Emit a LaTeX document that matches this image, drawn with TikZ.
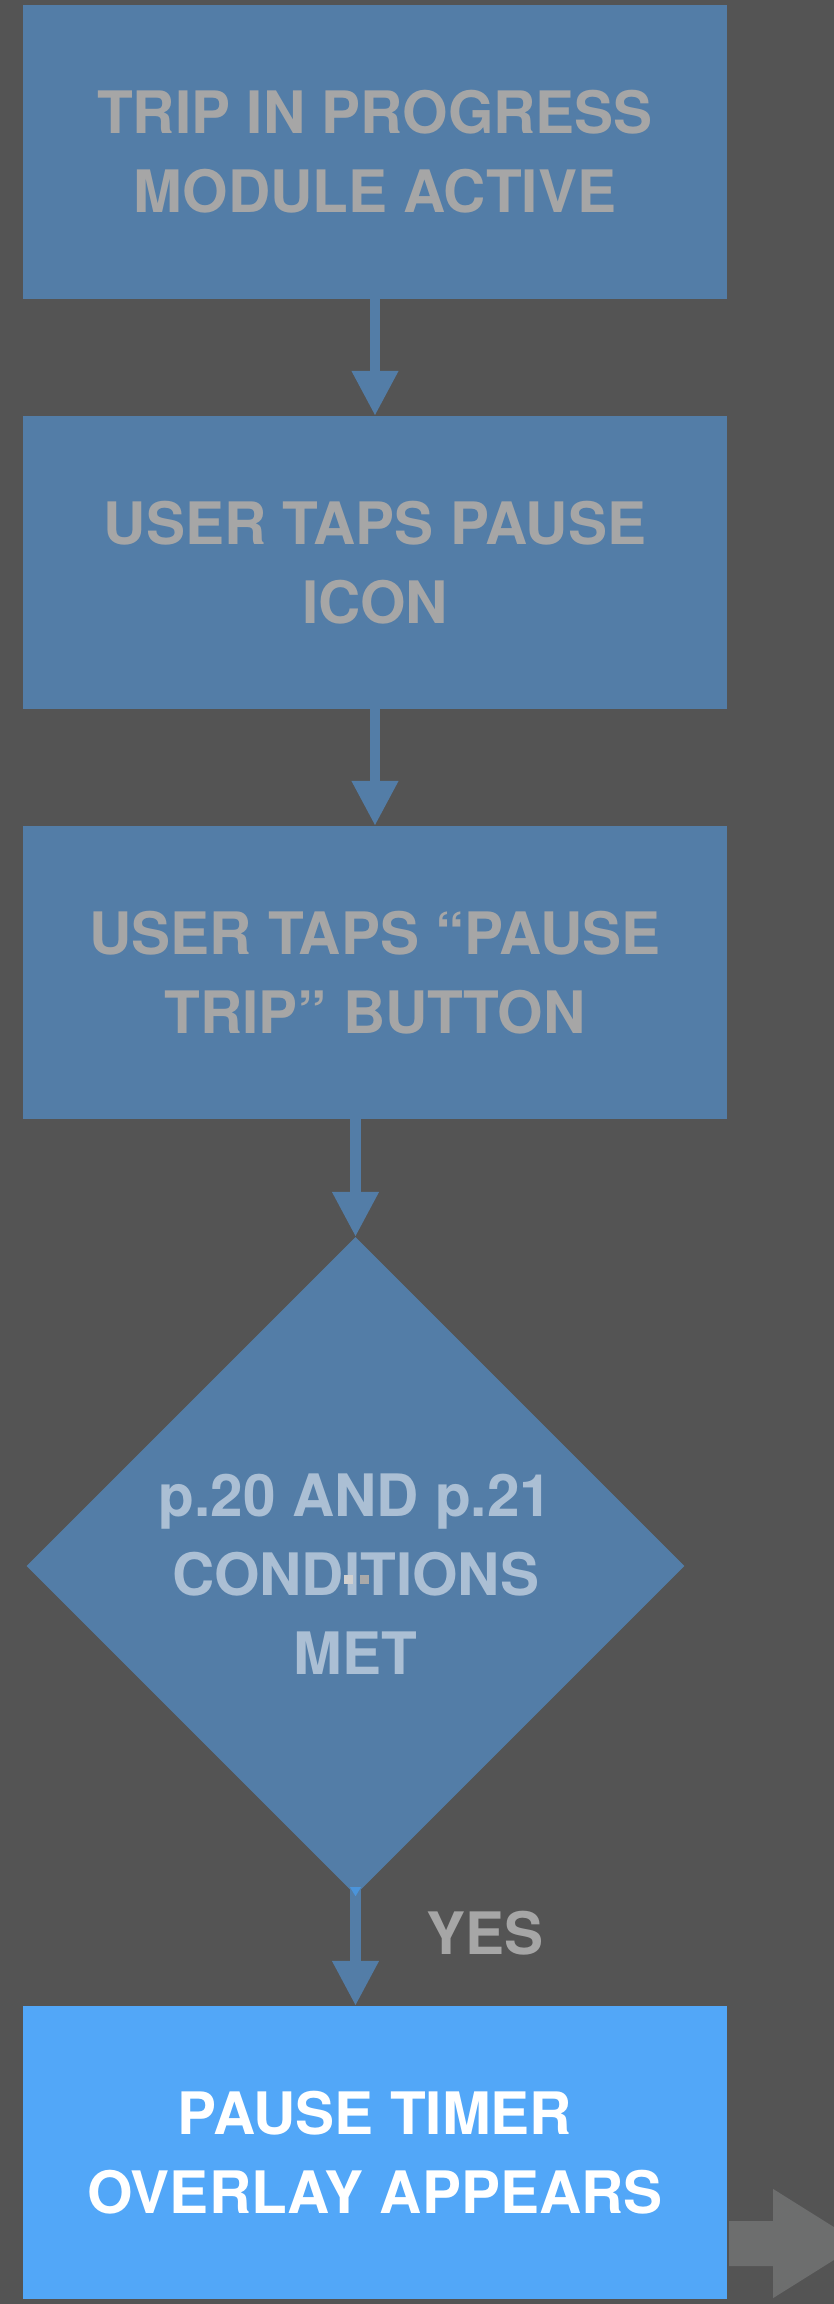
\documentclass[tikz,border=0pt]{standalone}
\usepackage{fontspec}
\setmainfont{TeX Gyre Heros}
\usetikzlibrary{arrows.meta,shapes.geometric,calc}

\definecolor{canvas}{HTML}{545454}
\definecolor{stepfill}{HTML}{537DA7}
\definecolor{steptext}{HTML}{A6A6A6}
\definecolor{decisiontext}{HTML}{ABBFD4}
\definecolor{activefill}{HTML}{52A7F8}
\definecolor{nextarrow}{HTML}{6D6E6E}
\definecolor{overlaptip}{HTML}{4B94DA}
\definecolor{markA}{HTML}{D0D0D0}
\definecolor{markB}{HTML}{A9A9A9}

\begin{document}
\begin{tikzpicture}[x=1pt,y=-1pt,
  labelfont/.style={font=\fontsize{58.5}{79}\selectfont\bfseries},
  stepbox/.style={rectangle, fill=stepfill, minimum width=704pt,
    minimum height=293pt, inner sep=0pt, align=center, text=steptext, labelfont},
  activebox/.style={stepbox, fill=activefill, text=white},
  decision/.style={diamond, fill=stepfill, minimum width=658pt,
    minimum height=658pt, inner sep=0pt},
  decisionlabel/.style={align=center, inner sep=0pt, text=decisiontext, labelfont},
  edgelabel/.style={inner sep=0pt, text=steptext, labelfont},
  flow/.style={draw=stepfill, line width=10.5pt,
    -{Triangle[width=44pt,length=45pt]}}
]
% canvas
\fill[canvas] (0,0) rectangle (834,2304);
\useasboundingbox (0,0) rectangle (834,2304);
\clip (0,0) rectangle (834,2304);

% steps
\node[stepbox] (b1) at (375,152) {TRIP IN PROGRESS\\MODULE ACTIVE};
\node[stepbox] (b2) at (375,562.5) {USER TAPS PAUSE\\ICON};
\node[stepbox] (b3) at (375,972.5) {USER TAPS “PAUSE\\TRIP” BUTTON};
\node[decision] (d) at (355.5,1566) {};
\node[decisionlabel] (dl) at ($(d.center)+(0,8.5)$) {p.20 AND p.21\\CONDITIONS\\MET};
\node[activebox] (b4) at (375,2152.5) {PAUSE TIMER\\OVERLAY APPEARS};

% small marks inside the decision text
\fill[markA] (344,1575) rectangle (353,1584);
\fill[markB] (360,1575) rectangle (369,1584);

% connectors
\draw[flow] (b1.south) -- (b2.north);
\draw[flow] (b2.south) -- (b3.north);
\draw[flow] (d.north |- b3.south) -- (d.north);
\draw[flow] ($(d.south)+(0,-8)$) -- (d.south |- b4.north);
\fill[overlaptip] ($(d.south)+(-5.5,-8)$) -- ($(d.south)+(5.5,-8)$) -- ($(d.south)+(0,1)$) -- cycle;
\node[edgelabel] (yes) at (485,1933) {YES};

% outgoing block arrow on the right
\coordinate (out) at ($(b4.east)+(2,91)$);
\fill[nextarrow] ($(out)+(0,-22.5)$) -- ($(out)+(44,-22.5)$) -- ($(out)+(44,-54.5)$)
  -- ($(out)+(131,0)$) -- ($(out)+(44,54.5)$) -- ($(out)+(44,22.5)$)
  -- ($(out)+(0,22.5)$) -- cycle;
\end{tikzpicture}
\end{document}
